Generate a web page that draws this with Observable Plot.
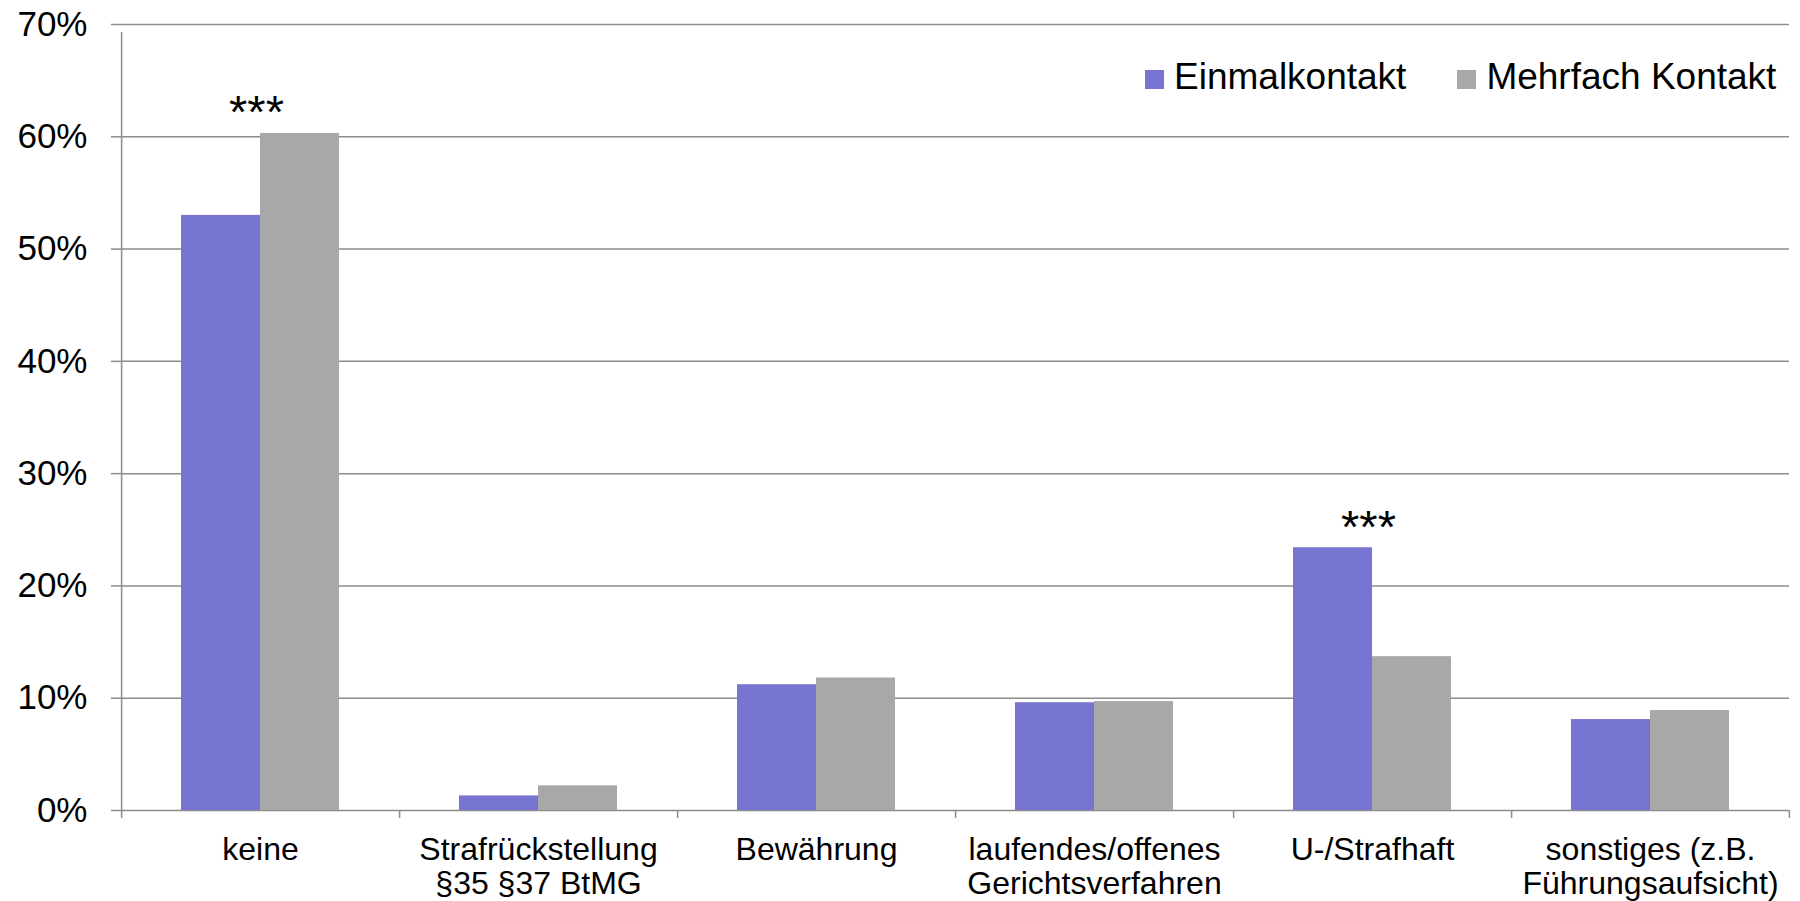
<!DOCTYPE html>
<html><head><meta charset="utf-8">
<script src="https://cdn.jsdelivr.net/npm/d3@7"></script>
<script src="https://cdn.jsdelivr.net/npm/@observablehq/plot@0.6"></script>
<style>
html,body{margin:0;padding:0;background:#fff;}
#wrap{position:relative;width:1800px;height:901px;font-family:"Liberation Sans",Arial,sans-serif;}
#legend{position:absolute;left:1145px;top:59px;display:flex;font-size:37px;line-height:36px;color:#000;white-space:nowrap;}
.item{display:flex;align-items:center;margin-right:51px;}
.item:last-child{margin-right:0;}
.sw{width:19px;height:19px;margin-right:10px;position:relative;top:2px;}
</style></head><body><div id="wrap"></div>
<script>
const categories = ["keine", "Strafrückstellung\n§35 §37 BtMG", "Bewährung", "laufendes/offenes\nGerichtsverfahren", "U-/Strafhaft", "sonstiges (z.B.\nFührungsaufsicht)"];
const series = ["Einmalkontakt", "Mehrfach Kontakt"];
const einmal = [53.0, 1.3, 11.2, 9.6, 23.4, 8.1];
const mehrfach = [60.3, 2.2, 11.8, 9.7, 13.7, 8.9];
const stars = ["***", "", "", "", "***", ""];
const yTicks = [0, 10, 20, 30, 40, 50, 60, 70];
const colors = ["#7775d1", "#a8a8a8"];

const rows = categories.flatMap((c, i) => [
  {cat: c, series: series[0], value: einmal[i]},
  {cat: c, series: series[1], value: mehrfach[i]}
]);
const starRows = categories.map((c, i) => ({cat: c, label: stars[i], top: Math.max(einmal[i], mehrfach[i])})).filter(d => d.label);

const W = 1800, H = 901, mL = 119, mR = 9, mT = 24, mB = 91;
const po = 0.744;
const facetW = (W - mL - mR) / categories.length;
const step = facetW / (2 + 2 * po);
const edge = po * step;
const gridColor = "#8c8c8c";

const chart = Plot.plot({
  width: W, height: H,
  marginLeft: mL, marginRight: mR, marginTop: mT, marginBottom: mB,
  style: {fontFamily: '"Liberation Sans", Arial, sans-serif', color: "#000", background: "#fff"},
  fx: {domain: categories, padding: 0, label: null},
  x: {domain: series, paddingInner: 0, paddingOuter: po, axis: null},
  y: {domain: [0, 70], label: null},
  color: {domain: series, range: colors},
  marks: [
    Plot.gridY(yTicks, {stroke: gridColor, strokeOpacity: 1, strokeWidth: 1.5}),
    Plot.axisY(yTicks, {tickSize: 10, tickPadding: 24, fontSize: 35, stroke: gridColor, strokeWidth: 1.5, tickFormat: d => d + "%", label: null}),
    Plot.axisFx({anchor: "bottom", tickSize: 0, tickPadding: 25, fontSize: 32, lineHeight: 1.07, label: null}),
    Plot.barY(rows, {fx: "cat", x: "series", y: "value", fill: "series"}),
    // y-axis line (left edge of first facet)
    Plot.ruleX([categories[0]], {fx: d => d, x: () => series[0], y1: 0, y2: 70, insetBottom: -8, dx: -(edge + step / 2), stroke: gridColor, strokeWidth: 1.5}),
    // category boundary ticks
    Plot.ruleX(categories, {fx: d => d, x: () => series[0], y1: 0, y2: 0, insetBottom: -8, dx: -(edge + step / 2), stroke: gridColor, strokeWidth: 1.5}),
    Plot.ruleX([categories[categories.length - 1]], {fx: d => d, x: () => series[1], y1: 0, y2: 0, insetBottom: -8, dx: edge + step / 2, stroke: gridColor, strokeWidth: 1.5}),
    Plot.text(starRows, {fx: "cat", y: "top", text: "label", lineAnchor: "bottom", dy: -5, dx: -4, fontSize: 47, fill: "#000"})
  ]
});

const wrap = document.getElementById("wrap");
wrap.appendChild(chart);
const legend = document.createElement("div");
legend.id = "legend";
series.forEach((s, i) => {
  const item = document.createElement("div");
  item.className = "item";
  const sw = document.createElement("span");
  sw.className = "sw";
  sw.style.background = colors[i];
  const t = document.createElement("span");
  t.textContent = s;
  item.appendChild(sw); item.appendChild(t);
  legend.appendChild(item);
});
wrap.appendChild(legend);
</script>
</body></html>
